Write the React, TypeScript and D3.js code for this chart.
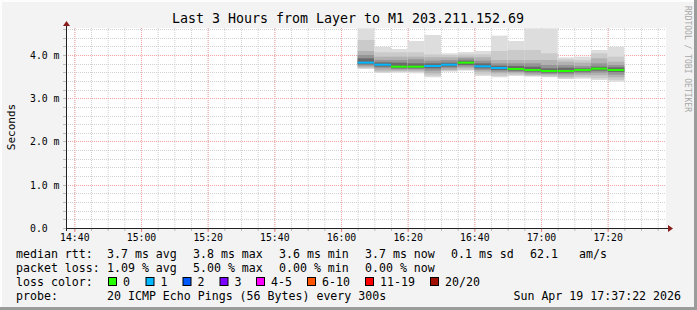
import React from "react";
import * as d3 from "d3";

const W = 697;
const H = 310;

const titleText = "Last 3 Hours from Layer to M1 203.211.152.69";
const yAxisTitle = "Seconds";
const sideText = "RRDTOOL / TOBI OETIKER";

const yTicks = [0, 1, 2, 3, 4];
const yTickLabels = ["0.0", "1.0 m", "2.0 m", "3.0 m", "4.0 m"];
const xTickLabels = ["14:40", "15:00", "15:20", "15:40", "16:00", "16:20", "16:40", "17:00", "17:20"];

// bar start times (5-minute steps)
const barTimes = [
  "16:05", "16:10", "16:15", "16:20", "16:25", "16:30", "16:35", "16:40",
  "16:45", "16:50", "16:55", "17:00", "17:05", "17:10", "17:15", "17:20",
];
// median rtt (ms)
const medians = [3.823, 3.776, 3.730, 3.730, 3.746, 3.776, 3.823, 3.738, 3.699, 3.676, 3.653, 3.630, 3.630, 3.653, 3.684, 3.653];
// lost pings out of 20
const losses = [1, 1, 0, 0, 1, 1, 0, 1, 1, 0, 0, 0, 0, 0, 0, 0];
// smoke band upper edges, outer -> inner (ms)
const smokeHigh = [
  [4.617, 4.347, 4.092, 4.000, 3.923],
  [4.193, 4.062, 3.961, 3.884, 3.830],
  [4.139, 4.062, 3.961, 3.884, 3.823],
  [4.324, 4.062, 3.961, 3.900, 3.807],
  [4.462, 4.015, 3.946, 3.869, 3.807],
  [4.039, 4.000, 3.946, 3.884, 3.823],
  [4.069, 4.015, 3.961, 3.923, 3.869],
  [4.092, 4.015, 3.946, 3.869, 3.807],
  [4.447, 4.092, 3.884, 3.807, 3.753],
  [4.324, 4.116, 3.884, 3.807, 3.746],
  [4.617, 4.116, 3.884, 3.807, 3.730],
  [4.617, 4.039, 3.884, 3.769, 3.692],
  [3.946, 3.900, 3.846, 3.769, 3.707],
  [3.961, 3.884, 3.823, 3.746, 3.692],
  [4.116, 4.039, 3.923, 3.807, 3.730],
  [4.193, 3.961, 3.846, 3.769, 3.715],
];
// smoke band lower edges, outer -> inner (ms)
const smokeLow = [
  [3.676, 3.692, 3.715, 3.753, 3.784],
  [3.592, 3.599, 3.638, 3.692, 3.730],
  [3.592, 3.615, 3.638, 3.669, 3.692],
  [3.576, 3.607, 3.638, 3.669, 3.692],
  [3.484, 3.522, 3.576, 3.638, 3.692],
  [3.615, 3.630, 3.653, 3.692, 3.730],
  [3.638, 3.653, 3.692, 3.730, 3.769],
  [3.514, 3.553, 3.615, 3.653, 3.692],
  [3.484, 3.514, 3.576, 3.615, 3.653],
  [3.514, 3.538, 3.576, 3.607, 3.638],
  [3.499, 3.514, 3.538, 3.576, 3.615],
  [3.484, 3.499, 3.530, 3.561, 3.592],
  [3.445, 3.461, 3.499, 3.553, 3.592],
  [3.453, 3.484, 3.530, 3.576, 3.615],
  [3.422, 3.461, 3.530, 3.592, 3.638],
  [3.383, 3.422, 3.484, 3.545, 3.607],
];
const smokeShades = ["#dddddd", "#cacaca", "#b2b2b2", "#959595", "#6a6a6a"];

const lossLabels = ["0", "1", "2", "3", "4-5", "6-10", "11-19", "20/20"];
const lossColors = ["#26ff00", "#00b8ff", "#0059ff", "#7e00ff", "#ff00ff", "#ff5500", "#ff0000", "#a01000"];
const lossUpper = [0, 1, 2, 3, 5, 10, 19, 20];

const legendLine1 = ["median rtt:", "3.7 ms avg", "3.8 ms max", "3.6 ms min", "3.7 ms now", "0.1 ms sd", "62.1", "am/s"];
const legendLine2 = ["packet loss:", "1.09 % avg", "5.00 % max", "0.00 % min", "0.00 % now"];
const probeLabel = "probe:";
const probeText = "20 ICMP Echo Pings (56 Bytes) every 300s";
const dateText = "Sun Apr 19 17:37:22 2026";
const lossColorLabel = "loss color:";

const day = "2026-04-19T";
const t = (hm: string) => new Date(day + hm + ":00");

export default function App() {
  const font = "'DejaVu Sans Mono', monospace";
  const x = d3.scaleTime().domain([new Date(day + "14:37:30"), new Date(day + "17:37:30")]).range([66, 666]);
  const y = d3.scaleLinear().domain([0, 4.624]).range([228, 28]);
  const step = 5 * 60 * 1000;

  const minorX = d3.timeMinute.every(5)!.range(x.domain()[0], x.domain()[1]);
  const majorX = d3.timeMinute.every(20)!.range(x.domain()[0], x.domain()[1]);
  const minorY = d3.range(0, 4.62, 0.2);

  const lossColor = (l: number) => lossColors[lossUpper.findIndex((u) => l <= u)];

  const col1 = [16, 107, 193, 279, 365, 451, 530, 579];
  const boxX = [108, 145.5, 182.5, 219.5, 256, 307, 365, 430];
  const boxLabelX = [123, 160.5, 197.5, 234.5, 271, 322, 380, 445];

  return (
    <svg width={W} height={H} style={{ position: "absolute", left: 0, top: 0 }} fontFamily={font}>
      <rect x={0} y={0} width={W} height={H} fill="#f3f3f3" />
      <rect x={0} y={0} width={W} height={2} fill="#fdfdfd" />
      <rect x={0} y={0} width={2} height={H} fill="#fdfdfd" />
      <rect x={W - 3} y={0} width={3} height={H} fill="#9b9b9b" />
      <rect x={0} y={H - 3} width={W} height={3} fill="#9b9b9b" />
      <rect x={66} y={28} width={600} height={200} fill="#ffffff" />

      {/* minor grid */}
      {minorX.map((d, i) => (
        <line key={"mx" + i} x1={x(d) + 0.5} x2={x(d) + 0.5} y1={28} y2={228} stroke="#d2d2d2" strokeDasharray="1,1" />
      ))}
      {minorY.map((v, i) => (
        <line key={"my" + i} x1={66} x2={666} y1={Math.round(y(v)) + 0.5} y2={Math.round(y(v)) + 0.5} stroke="#d2d2d2" strokeDasharray="1,1" />
      ))}
      {/* major grid */}
      {majorX.map((d, i) => (
        <line key={"Mx" + i} x1={x(d) + 0.5} x2={x(d) + 0.5} y1={28} y2={228} stroke="#f4a4a4" strokeDasharray="1,1" />
      ))}
      {yTicks.map((v, i) => (
        <line key={"My" + i} x1={66} x2={666} y1={Math.round(y(v)) + 0.5} y2={Math.round(y(v)) + 0.5} stroke="#f4a4a4" strokeDasharray="1,1" />
      ))}

      {/* smoke */}
      {barTimes.map((bt, i) => {
        const x0 = x(t(bt));
        const x1 = x(new Date(t(bt).getTime() + step));
        return (
          <g key={"b" + i}>
            {smokeHigh[i].map((hv, k) => (
              <rect key={k} x={x0} width={x1 - x0} y={y(hv)} height={y(smokeLow[i][k]) - y(hv)} fill={smokeShades[k]} />
            ))}
            <rect x={x0} width={x1 - x0} y={y(medians[i]) - 1} height={2} fill={lossColor(losses[i])} />
          </g>
        );
      })}

      {/* axes */}
      <line x1={63} x2={668} y1={228.5} y2={228.5} stroke="#222" />
      <line x1={66.5} x2={66.5} y1={231} y2={25} stroke="#222" />
      <path d="M668,225 L673,228.5 L668,232 Z" fill="#8b1c1c" />
      <path d="M63,26 L66.5,21 L70,26 Z" fill="#8b1c1c" />
      {minorX.map((d, i) => (
        <line key={"tx" + i} x1={x(d) + 0.5} x2={x(d) + 0.5} y1={229} y2={231} stroke="#bbb" />
      ))}
      {majorX.map((d, i) => (
        <line key={"tX" + i} x1={x(d) + 0.5} x2={x(d) + 0.5} y1={229} y2={232} stroke="#f08080" />
      ))}
      {minorY.map((v, i) => (
        <line key={"ty" + i} x1={63} x2={66} y1={Math.round(y(v)) + 0.5} y2={Math.round(y(v)) + 0.5} stroke="#bbb" />
      ))}

      {/* tick labels */}
      {yTicks.map((v, i) => (
        <text key={"yl" + i} x={30} y={y(v) + 1} dominantBaseline="middle" fontSize={9.8} fill="#000">
          {yTickLabels[i]}
        </text>
      ))}
      {majorX.map((d, i) => (
        <text key={"xl" + i} x={x(d) + 0.5} y={241} textAnchor="middle" fontSize={9.8} fill="#000">
          {xTickLabels[i]}
        </text>
      ))}

      {/* titles */}
      <text x={348} y={23} textAnchor="middle" fontSize={13.3} fill="#000">{titleText}</text>
      <text transform="translate(15,127) rotate(-90)" textAnchor="middle" fontSize={11} fill="#000">{yAxisTitle}</text>
      <text transform="translate(685,59) rotate(90)" textAnchor="middle" fontSize={8} fill="#a8a8a8">{sideText}</text>

      {/* legend */}
      {legendLine1.map((s, i) => (
        <text key={"l1" + i} x={col1[i]} y={258} fontSize={11.6} fill="#000" xmlSpace="preserve">{s}</text>
      ))}
      {legendLine2.map((s, i) => (
        <text key={"l2" + i} x={col1[i]} y={272} fontSize={11.6} fill="#000">{s}</text>
      ))}
      <text x={16} y={286} fontSize={11.6} fill="#000">{lossColorLabel}</text>
      {lossLabels.map((s, i) => (
        <g key={"lc" + i}>
          <rect x={boxX[i] + 0.5} y={277.5} width={8} height={8} fill={lossColors[i]} stroke="#000" />
          <text x={boxLabelX[i]} y={286} fontSize={11.6} fill="#000">{s}</text>
        </g>
      ))}
      <text x={16} y={300} fontSize={11.6} fill="#000">{probeLabel}</text>
      <text x={107} y={300} fontSize={11.6} fill="#000">{probeText}</text>
      <text x={681} y={300} textAnchor="end" fontSize={11.6} fill="#000">{dateText}</text>
    </svg>
  );
}
